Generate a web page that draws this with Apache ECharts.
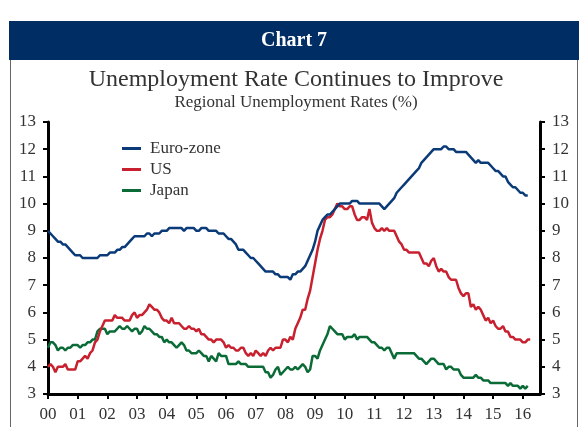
<!DOCTYPE html>
<html>
<head>
<meta charset="utf-8">
<script src="https://cdn.jsdelivr.net/npm/echarts@6/dist/echarts.min.js"></script>
<style>
  html, body { margin: 0; padding: 0; background: #ffffff; }
  #chart { width: 584px; height: 427px; }
</style>
</head>
<body>
<div id="chart"></div>
<script>
// Monthly unemployment rates (%), starting January 2000
const startYear = 2000;

const euroZone = [
  9.0, 8.9, 8.8, 8.7, 8.6, 8.6, 8.5, 8.5, 8.4, 8.3, 8.2, 8.1,   // 2000
  8.1, 8.1, 8.0, 8.0, 8.0, 8.0, 8.0, 8.0, 8.0, 8.1, 8.1, 8.1,   // 2001
  8.1, 8.2, 8.2, 8.2, 8.3, 8.3, 8.4, 8.4, 8.5, 8.6, 8.7, 8.8,   // 2002
  8.8, 8.8, 8.8, 8.8, 8.9, 8.9, 8.8, 8.9, 8.9, 8.9, 9.0, 9.0,   // 2003
  9.0, 9.1, 9.1, 9.1, 9.1, 9.1, 9.1, 9.0, 9.1, 9.1, 9.1, 9.1,   // 2004
  9.0, 9.0, 9.1, 9.1, 9.1, 9.0, 9.0, 9.0, 9.0, 8.9, 8.9, 8.9,   // 2005
  8.8, 8.7, 8.7, 8.6, 8.5, 8.3, 8.3, 8.3, 8.2, 8.1, 8.0, 8.0,   // 2006
  7.9, 7.8, 7.7, 7.6, 7.5, 7.5, 7.5, 7.5, 7.4, 7.4, 7.3, 7.3,   // 2007
  7.3, 7.3, 7.2, 7.4, 7.4, 7.5, 7.5, 7.6, 7.7, 7.9, 8.1, 8.3,   // 2008
  8.6, 9.0, 9.2, 9.4, 9.5, 9.6, 9.6, 9.7, 9.8, 9.9, 10.0, 10.0, // 2009
  10.0, 10.0, 10.0, 10.1, 10.1, 10.1, 10.0, 10.0, 10.0, 10.0, 10.0, 10.0, // 2010
  10.0, 10.0, 10.0, 9.9, 9.8, 9.9, 10.0, 10.1, 10.2, 10.4, 10.5, 10.6,    // 2011
  10.7, 10.8, 10.9, 11.0, 11.1, 11.2, 11.3, 11.5, 11.6, 11.7, 11.8, 11.9, // 2012
  12.0, 12.0, 12.0, 12.0, 12.1, 12.1, 12.0, 12.0, 12.0, 11.9, 11.9, 11.9, // 2013
  11.9, 11.9, 11.8, 11.7, 11.6, 11.5, 11.6, 11.5, 11.5, 11.5, 11.5, 11.4, // 2014
  11.3, 11.2, 11.2, 11.1, 11.0, 11.0, 10.8, 10.7, 10.6, 10.6, 10.5, 10.4, // 2015
  10.4, 10.3, 10.3                                                        // 2016
];

const us = [
  4.0, 4.1, 4.0, 3.8, 4.0, 4.0, 4.0, 4.1, 3.9, 3.9, 3.9, 3.9,   // 2000
  4.2, 4.2, 4.3, 4.4, 4.3, 4.5, 4.6, 4.9, 5.0, 5.3, 5.5, 5.7,   // 2001
  5.7, 5.7, 5.7, 5.9, 5.8, 5.8, 5.8, 5.7, 5.7, 5.7, 5.9, 6.0,   // 2002
  5.8, 5.9, 5.9, 6.0, 6.1, 6.3, 6.2, 6.1, 6.1, 6.0, 5.8, 5.7,   // 2003
  5.7, 5.6, 5.8, 5.6, 5.6, 5.6, 5.5, 5.4, 5.4, 5.5, 5.4, 5.4,   // 2004
  5.3, 5.4, 5.2, 5.2, 5.1, 5.0, 5.0, 4.9, 5.0, 5.0, 5.0, 4.9,   // 2005
  4.7, 4.8, 4.7, 4.7, 4.6, 4.6, 4.7, 4.7, 4.5, 4.4, 4.5, 4.4,   // 2006
  4.6, 4.5, 4.4, 4.5, 4.4, 4.6, 4.7, 4.6, 4.7, 4.7, 4.7, 5.0,   // 2007
  5.0, 4.9, 5.1, 5.0, 5.4, 5.6, 5.8, 6.1, 6.1, 6.5, 6.8, 7.3,   // 2008
  7.8, 8.3, 8.7, 9.0, 9.4, 9.5, 9.5, 9.6, 9.8, 10.0, 9.9, 9.9,  // 2009
  9.8, 9.8, 9.9, 9.9, 9.6, 9.4, 9.4, 9.5, 9.5, 9.4, 9.8, 9.3,   // 2010
  9.1, 9.0, 9.0, 9.1, 9.0, 9.1, 9.0, 9.0, 9.0, 8.8, 8.6, 8.5,   // 2011
  8.3, 8.3, 8.2, 8.2, 8.2, 8.2, 8.2, 8.0, 7.8, 7.8, 7.7, 7.9,   // 2012
  8.0, 7.7, 7.5, 7.6, 7.5, 7.5, 7.3, 7.2, 7.2, 7.2, 6.9, 6.7,   // 2013
  6.6, 6.7, 6.7, 6.2, 6.3, 6.1, 6.2, 6.1, 5.9, 5.7, 5.8, 5.6,   // 2014
  5.7, 5.5, 5.4, 5.4, 5.5, 5.3, 5.3, 5.1, 5.1, 5.0, 5.0, 5.0,   // 2015
  4.9, 4.9, 5.0, 5.0                                            // 2016
];

const japan = [
  4.7, 4.9, 4.9, 4.8, 4.6, 4.7, 4.7, 4.6, 4.7, 4.7, 4.8, 4.8,   // 2000
  4.8, 4.7, 4.8, 4.8, 4.9, 4.9, 5.0, 5.0, 5.3, 5.4, 5.4, 5.4,   // 2001
  5.2, 5.3, 5.3, 5.3, 5.4, 5.5, 5.4, 5.4, 5.5, 5.4, 5.3, 5.4,   // 2002
  5.4, 5.2, 5.3, 5.5, 5.4, 5.4, 5.3, 5.2, 5.2, 5.1, 5.1, 4.9,   // 2003
  5.0, 4.9, 4.9, 4.8, 4.7, 4.8, 4.9, 4.8, 4.6, 4.6, 4.5, 4.5,   // 2004
  4.5, 4.6, 4.5, 4.4, 4.4, 4.2, 4.4, 4.3, 4.2, 4.5, 4.4, 4.4,   // 2005
  4.4, 4.1, 4.1, 4.1, 4.1, 4.2, 4.1, 4.1, 4.1, 4.0, 4.0, 4.0,   // 2006
  4.0, 4.0, 4.0, 4.0, 3.8, 3.8, 3.6, 3.7, 3.9, 4.0, 3.7, 3.8,   // 2007
  3.9, 4.0, 3.9, 3.9, 4.0, 3.9, 4.0, 4.1, 4.0, 3.8, 3.9, 4.4,   // 2008
  4.4, 4.3, 4.6, 4.8, 5.0, 5.2, 5.5, 5.4, 5.3, 5.2, 5.2, 5.2,   // 2009
  5.0, 5.1, 5.1, 5.1, 5.2, 5.0, 5.1, 5.1, 5.1, 5.1, 5.0, 4.9,   // 2010
  4.9, 4.8, 4.7, 4.7, 4.6, 4.7, 4.7, 4.5, 4.3, 4.5, 4.5, 4.5,   // 2011
  4.5, 4.5, 4.5, 4.5, 4.5, 4.4, 4.3, 4.3, 4.2, 4.1, 4.2, 4.3,   // 2012
  4.3, 4.2, 4.1, 4.1, 4.1, 3.9, 4.0, 4.0, 3.9, 3.9, 3.9, 3.7,   // 2013
  3.6, 3.6, 3.6, 3.6, 3.6, 3.7, 3.6, 3.6, 3.5, 3.5, 3.5, 3.4,   // 2014
  3.4, 3.4, 3.4, 3.4, 3.4, 3.4, 3.3, 3.4, 3.3, 3.3, 3.3, 3.2,   // 2015
  3.3, 3.2, 3.3                                                 // 2016
];

const seriesNames = ['Euro-zone', 'US', 'Japan'];
const seriesColors = ['#0b3a78', '#c8202f', '#0b6b37'];

// place each monthly reading at its date expressed in years
function byMonth(values) {
  return values.map((v, i) => [startYear + i / 12, v]);
}

const serif = '"Liberation Serif", "DejaVu Serif", serif';
const chart = echarts.init(document.getElementById('chart'), null, { renderer: 'canvas' });

const yAxisBase = {
  type: 'value',
  min: 3,
  max: 13,
  interval: 1,
  axisLine: { show: true, lineStyle: { color: '#000', width: 3 } },
  axisTick: { show: true, length: 5, lineStyle: { color: '#000', width: 2 } },
  axisLabel: { color: '#333', fontFamily: serif, fontSize: 17, margin: 12 },
  splitLine: { show: false }
};

chart.setOption({
  animation: false,
  backgroundColor: '#ffffff',
  grid: { left: 48, right: 44, top: 122, bottom: 33, containLabel: false },
  legend: {
    orient: 'vertical',
    left: 117,
    top: 135,
    itemWidth: 19,
    itemHeight: 3,
    itemGap: 4,
    icon: 'rect',
    data: seriesNames,
    textStyle: { color: '#333', fontFamily: serif, fontSize: 17, padding: [0, 0, 0, 4] }
  },
  xAxis: {
    type: 'value',
    min: 2000,
    max: 2016.58,
    interval: 1,
    axisLine: { show: true, onZero: false, lineStyle: { color: '#000', width: 3 } },
    axisTick: { show: true, length: 5, lineStyle: { color: '#000', width: 2 } },
    axisLabel: {
      color: '#333', fontFamily: serif, fontSize: 17, margin: 12,
      showMaxLabel: false,
      formatter: v => Number.isInteger(v) ? String(v % 100).padStart(2, '0') : ''
    },
    splitLine: { show: false }
  },
  yAxis: [
    Object.assign({}, yAxisBase, { position: 'left' }),
    Object.assign({}, yAxisBase, { position: 'right' })
  ],
  series: [euroZone, us, japan].map((vals, k) => ({
    name: seriesNames[k],
    type: 'line',
    data: byMonth(vals),
    showSymbol: false,
    symbol: 'none',
    lineStyle: { color: seriesColors[k], width: 2.5 },
    itemStyle: { color: seriesColors[k] },
    z: 3 - k
  })),
  graphic: [
    {
      type: 'rect',
      shape: { x: 10.5, y: 59.5, width: 567, height: 380 },
      style: { fill: 'none', stroke: '#666', lineWidth: 1 },
      silent: true
    },
    {
      type: 'rect',
      shape: { x: 9, y: 21, width: 570, height: 39 },
      style: { fill: '#002d63' },
      silent: true
    },
    {
      type: 'text',
      x: 294, y: 41,
      style: { text: 'Chart 7', fill: '#ffffff', font: 'bold 20px ' + serif, align: 'center', verticalAlign: 'middle' },
      silent: true
    },
    {
      type: 'text',
      x: 296, y: 80,
      style: { text: 'Unemployment Rate Continues to Improve', fill: '#333', font: '24px ' + serif, align: 'center', verticalAlign: 'middle' },
      silent: true
    },
    {
      type: 'text',
      x: 296, y: 103,
      style: { text: 'Regional Unemployment Rates (%)', fill: '#333', font: '17px ' + serif, align: 'center', verticalAlign: 'middle' },
      silent: true
    }
  ]
});
</script>
</body>
</html>
